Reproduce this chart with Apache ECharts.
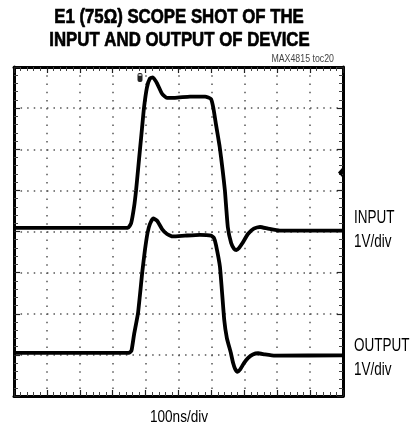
<!DOCTYPE html>
<html>
<head>
<meta charset="utf-8">
<script src="https://cdn.jsdelivr.net/npm/echarts@6/dist/echarts.min.js"></script>
<style>
html,body{margin:0;padding:0;background:#fff;}
#chart{width:410px;height:430px;}
</style>
</head>
<body>
<div id="chart"></div>
<script>
// time in ns (100 ns/div), level in divisions (0..8, bottom = 0)
const inputTime = [0,346,356,365,371,377,383,389,395,404,413,422,435,450,465,489,535,581,599,606,614,625,634,641,650,660,669,676,684,693,711,729,748,772,808,1000];
const inputLevel = [4.09,4.09,4.2,4.6,5.0,5.5,6.0,6.5,7.0,7.5,7.72,7.75,7.6,7.35,7.25,7.25,7.28,7.28,7.22,7.0,6.6,6.07,5.5,5.0,4.1,3.72,3.58,3.55,3.6,3.7,3.94,4.07,4.11,4.07,4.02,4.02];
const outputTime = [0,349,357,365,377,390,398,406,413,423,435,450,465,483,520,565,599,608,614,626,639,647,659,666,672,679,687,699,711,726,742,763,793,1000];
const outputLevel = [1.05,1.05,1.1,1.5,2.02,3.02,3.55,3.97,4.18,4.32,4.26,4.06,3.94,3.88,3.9,3.92,3.9,3.84,3.67,3.14,1.85,1.41,1.05,0.8,0.66,0.59,0.64,0.8,0.92,1.01,1.04,1.01,0.98,0.99];

const titleLines = ['E1 (75\u03A9) SCOPE SHOT OF THE', 'INPUT AND OUTPUT OF DEVICE'];
const noteText = 'MAX4815 toc20';
const xLabel = '100ns/div';
const traceLabels = [['INPUT', '1V/div'], ['OUTPUT', '1V/div']];

const pair = (xs, ys) => xs.map((x, i) => [x, ys[i]]);

const chart = echarts.init(document.getElementById('chart'), null, {renderer: 'canvas'});
const sans = "'Liberation Sans',Arial,Helvetica,sans-serif";

const dotGray = '#555';
const baseAxis = {
  type: 'value',
  axisLabel: {show: false},
  axisLine: {show: true, onZero: false, lineStyle: {color: '#000', width: 3}},
  axisTick: {show: true, inside: true, length: 6, lineStyle: {color: '#222', width: 1.2}},
  minorTick: {show: true, splitNumber: 5, length: 4, lineStyle: {color: '#444', width: 1}}
};

function label(txt, x, y, size, sx) {
  return {type: 'text', x: x, y: y, scaleX: sx, z: 20,
    style: {text: txt, font: size + 'px ' + sans, fill: '#000', align: 'left'}};
}
function titleText(txt, x, y) {
  return {type: 'text', x: x, y: y, scaleX: 0.8, z: 20,
    style: {text: txt, font: 'bold 21px ' + sans, fill: '#000', stroke: '#000', lineWidth: 0.7, align: 'center'}};
}

const option = {
  animation: false,
  grid: {left: 14, top: 67, width: 329, height: 329, show: false},
  xAxis: [
    Object.assign({}, baseAxis, {min: 0, max: 1000, interval: 100, position: 'bottom',
      splitLine: {show: true, lineStyle: {color: dotGray, width: 1.5, type: [1.5, 6.72]}}}),
    Object.assign({}, baseAxis, {min: 0, max: 1000, interval: 100, position: 'top', splitLine: {show: false}})
  ],
  yAxis: [
    Object.assign({}, baseAxis, {min: 0, max: 8, interval: 1, position: 'left',
      splitLine: {show: true, lineStyle: {color: dotGray, width: 1.5, type: [1.5, 5.08]}}}),
    Object.assign({}, baseAxis, {min: 0, max: 8, interval: 1, position: 'right', splitLine: {show: false}})
  ],
  series: [
    {type: 'line', name: 'INPUT', data: pair(inputTime, inputLevel), showSymbol: false, smooth: 0.15,
      lineStyle: {color: '#000', width: 3.8}, z: 5},
    {type: 'line', name: 'OUTPUT', data: pair(outputTime, outputLevel), showSymbol: false, smooth: 0.15,
      lineStyle: {color: '#000', width: 3.8}, z: 5}
  ],
  graphic: [
    titleText(titleLines[0], 179, 7),
    titleText(titleLines[1], 179.5, 30),
    {type: 'text', x: 334, y: 54, scaleX: 0.88, z: 20, style: {text: noteText, font: "10px " + sans, fill: '#444', align: 'right'}},
    {type: 'text', x: 179, y: 409, scaleX: 0.8, z: 20, style: {text: xLabel, font: "17px " + sans, fill: '#000', align: 'center'}},
    label(traceLabels[0][0], 354, 209, 18, 0.75),
    label(traceLabels[0][1], 354, 233, 18, 0.75),
    label(traceLabels[1][0], 354, 337, 18, 0.75),
    label(traceLabels[1][1], 354, 361, 18, 0.75),
    {type: 'rect', shape: {x: 137.5, y: 73, width: 5, height: 9, r: 2}, style: {fill: '#222'}, z: 10},
    {type: 'rect', shape: {x: 138.5, y: 74, width: 3, height: 2}, style: {fill: '#bbb'}, z: 11},
    {type: 'polygon', shape: {points: [[177, 66], [183, 66], [180, 70]]}, style: {fill: '#000'}, z: 10},
    {type: 'polygon', shape: {points: [[338, 172.5], [342, 168], [342, 177]]}, style: {fill: '#000'}, z: 10}
  ]
};
chart.setOption(option);
</script>
</body>
</html>
